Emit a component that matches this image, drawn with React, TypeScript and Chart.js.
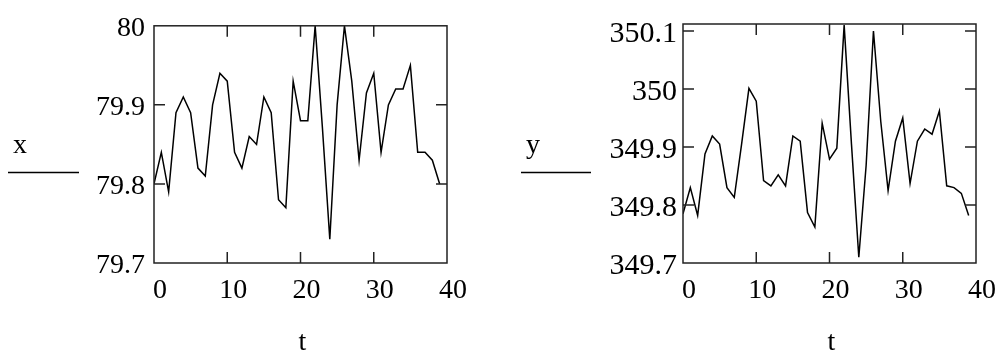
import React, { useEffect, useRef } from 'react';
import { Chart, registerables } from 'chart.js';

Chart.register(...registerables);

// ---- data ----
const tValues = [0, 1, 2, 3, 4, 5, 6, 7, 8, 9, 10, 11, 12, 13, 14, 15, 16, 17, 18, 19, 20, 21, 22, 23, 24, 25, 26, 27, 28, 29, 30, 31, 32, 33, 34, 35, 36, 37, 38, 39];
const xValues = [79.80, 79.84, 79.79, 79.89, 79.91, 79.89, 79.82, 79.81, 79.90, 79.94, 79.93, 79.84, 79.82, 79.86, 79.85, 79.91, 79.89, 79.78, 79.77, 79.93, 79.88, 79.88, 80.00, 79.87, 79.73, 79.90, 80.00, 79.93, 79.83, 79.915, 79.94, 79.84, 79.90, 79.92, 79.92, 79.95, 79.84, 79.84, 79.83, 79.80];
const yValues = [349.785, 349.83, 349.782, 349.888, 349.919, 349.905, 349.83, 349.813, 349.905, 350.001, 349.979, 349.842, 349.833, 349.852, 349.833, 349.919, 349.91, 349.787, 349.762, 349.941, 349.879, 349.898, 350.11, 349.905, 349.71, 349.868, 350.10, 349.944, 349.825, 349.91, 349.95, 349.837, 349.91, 349.931, 349.922, 349.962, 349.833, 349.83, 349.82, 349.782];

const tTicks = [0, 10, 20, 30, 40];
const tTickLabels = ['0', '10', '20', '30', '40'];
const xTicks = [79.7, 79.8, 79.9, 80];
const xTickLabels = ['79.7', '79.8', '79.9', '80'];
const yTicks = [349.7, 349.8, 349.9, 350, 350.1];
const yTickLabels = ['349.7', '349.8', '349.9', '350', '350.1'];
const tRange = [0, 40];
const xRange = [79.7, 80];
const yRange = [349.7, 350.112];
const tName = 't';
const xName = 'x';
const yName = 'y';

const FONT = '"Liberation Serif", "Times New Roman", serif';
const H = 354;

type Area = { left: number; right: number; top: number; bottom: number };

function MathPlot(props: {
  offsetX: number;
  width: number;
  area: Area;
  values: number[];
  vTicks: number[];
  vLabels: string[];
  vRange: number[];
  vFontSize: number;
  vPadding: number;
  varName: string;
  varX: number;
  lineX0: number;
  lineX1: number;
}) {
  const ref = useRef<HTMLCanvasElement | null>(null);
  useEffect(() => {
    const { area, width: W } = props;
    const font = { family: FONT, size: 28 };
    const framePlugin = {
      id: 'mathFrame',
      afterDatasetsDraw(chart: any) {
        const { ctx, chartArea: a, scales } = chart;
        const xs = scales.x;
        const ys = scales.y;
        ctx.save();
        ctx.strokeStyle = '#222';
        ctx.lineWidth = 1.5;
        ctx.strokeRect(a.left, a.top, a.right - a.left, a.bottom - a.top);
        ctx.beginPath();
        xs.ticks.forEach((tk: any) => {
          if (tk.value > xs.min && tk.value < xs.max) {
            const px = xs.getPixelForValue(tk.value);
            ctx.moveTo(px, a.bottom);
            ctx.lineTo(px, a.bottom - 11);
            ctx.moveTo(px, a.top);
            ctx.lineTo(px, a.top + 11);
          }
        });
        ys.ticks.forEach((tk: any) => {
          if (tk.value > ys.min && tk.value < ys.max) {
            const py = ys.getPixelForValue(tk.value);
            ctx.moveTo(a.left, py);
            ctx.lineTo(a.left + 11, py);
            ctx.moveTo(a.right, py);
            ctx.lineTo(a.right - 11, py);
          }
        });
        ctx.stroke();
        ctx.fillStyle = '#000';
        ctx.font = `28px ${FONT}`;
        ctx.textBaseline = 'alphabetic';
        ctx.textAlign = 'center';
        ctx.fillText(tName, (a.left + a.right) / 2 + 2, 350);
        ctx.textAlign = 'left';
        ctx.fillText(props.varName, props.varX, 153);
        ctx.beginPath();
        ctx.lineWidth = 1.3;
        ctx.strokeStyle = '#000';
        ctx.moveTo(props.lineX0, 172.5);
        ctx.lineTo(props.lineX1, 172.5);
        ctx.stroke();
        ctx.restore();
      },
    };

    const chart = new Chart(ref.current as HTMLCanvasElement, {
      type: 'line',
      data: {
        datasets: [
          {
            data: tValues.map((t, i) => ({ x: t, y: props.values[i] })),
            borderColor: '#000',
            borderWidth: 1.5,
            pointRadius: 0,
            tension: 0,
            fill: false,
          },
        ],
      },
      options: {
        responsive: false,
        animation: false,
        layout: { padding: { left: 0, top: area.top, right: W - area.right, bottom: 0 } },
        plugins: { legend: { display: false }, tooltip: { enabled: false } },
        scales: {
          x: {
            type: 'linear',
            min: tRange[0],
            max: tRange[1],
            grid: { display: false, drawTicks: false },
            border: { display: false },
            afterBuildTicks: (s: any) => {
              s.ticks = tTicks.map((v) => ({ value: v }));
            },
            afterFit: (s: any) => {
              s.height = H - area.bottom;
            },
            ticks: {
              font,
              color: '#000',
              padding: 11,
              labelOffset: 6,
              maxRotation: 0,
              autoSkip: false,
              callback: (_v: any, i: number) => tTickLabels[i],
            },
          },
          y: {
            type: 'linear',
            min: props.vRange[0],
            max: props.vRange[1],
            grid: { display: false, drawTicks: false },
            border: { display: false },
            afterBuildTicks: (s: any) => {
              s.ticks = props.vTicks.map((v) => ({ value: v }));
            },
            afterFit: (s: any) => {
              s.width = area.left;
            },
            ticks: {
              font: { family: FONT, size: props.vFontSize },
              color: '#000',
              padding: props.vPadding,
              labelOffset: 3,
              autoSkip: false,
              callback: (_v: any, i: number) => props.vLabels[i],
            },
          },
        },
      } as any,
      plugins: [framePlugin],
    });
    return () => chart.destroy();
  }, []);

  return (
    <canvas
      ref={ref}
      width={props.width}
      height={H}
      style={{ position: 'absolute', left: props.offsetX, top: 0, width: props.width, height: H }}
    />
  );
}

export default function App() {
  return (
    <div style={{ position: 'absolute', left: 0, top: 0, width: 1001, height: H, background: '#fff', overflow: 'hidden' }}>
      <MathPlot
        offsetX={0}
        width={500}
        area={{ left: 154, right: 447, top: 22, bottom: 263 }}
        values={xValues}
        vTicks={xTicks}
        vLabels={xTickLabels}
        vRange={xRange}
        vFontSize={28}
        vPadding={9}
        varName={xName}
        varX={13}
        lineX0={8}
        lineX1={79}
      />
      <MathPlot
        offsetX={500}
        width={501}
        area={{ left: 183, right: 477, top: 22, bottom: 263 }}
        values={yValues}
        vTicks={yTicks}
        vLabels={yTickLabels}
        vRange={yRange}
        vFontSize={30}
        vPadding={6}
        varName={yName}
        varX={26}
        lineX0={21}
        lineX1={91}
      />
    </div>
  );
}
